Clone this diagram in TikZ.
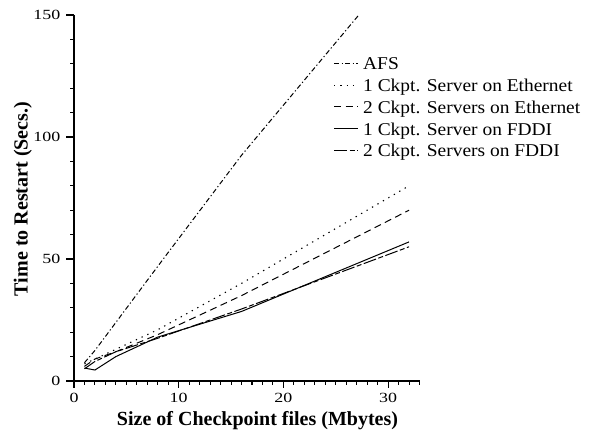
\documentclass[tikz,border=0pt]{standalone}
\usepackage{fontspec}
\setmainfont{Liberation Serif}
\newfontfamily\tickfont[FakeStretch=1.28]{Liberation Serif}
\newfontfamily\legfont[FakeStretch=1.08]{Liberation Serif}
\begin{document}
\begin{tikzpicture}[x=1bp,y=1bp,
  afs/.style={line width=1bp, dash pattern=on 5bp off 2.5bp on 1.2bp off 2.5bp},
  ethone/.style={line width=1.1bp, dash pattern=on 1.3bp off 5bp},
  ethtwo/.style={line width=1bp, dash pattern=on 7bp off 4.5bp},
  fddione/.style={line width=1bp},
  fdditwo/.style={line width=1bp, dash pattern=on 13bp off 2.5bp on 5bp off 2.5bp},
  ticklab/.style={font=\tickfont\fontsize{14bp}{16bp}\selectfont, inner sep=0pt},
  leglab/.style={font=\legfont\fontsize{18bp}{20bp}\selectfont, inner sep=0pt, anchor=base west},
  axlab/.style={font=\bfseries\fontsize{20bp}{22bp}\selectfont, inner sep=0pt, anchor=base},
  axisline/.style={line width=1.1bp}]
\path[use as bounding box] (0,0) rectangle (590,437);
\begin{scope}[shift={(74,56)}, x=10.47bp, y=2.44bp]
  % axes
  \draw[axisline] (0,150) -- (0,0) -- (33,0);
  \foreach \v in {0,10,...,150} \draw[axisline] (0,\v) -- ++(-4bp,0);
  \foreach \v in {0,50,100,150} {
    \draw[axisline] (0,\v) -- ++(-8bp,0);
    \node[ticklab, anchor=east] (yt\v) at ([xshift=-13.5bp]0,\v) {\v};
  }
  \foreach \v in {0,1,...,33} \draw[axisline] (\v,0) -- ++(0,-4bp);
  \foreach \v in {0,10,20,30} {
    \draw[axisline] (\v,0) -- ++(0,-7bp);
    \node[ticklab, anchor=north] (xt\v) at ([yshift=-12bp]\v,0) {\v};
  }
  % data
  \draw[afs] (1,7.5) -- (2,12.5) -- (4,24) -- (8,47) -- (16,92.5) -- (27.2,150);
  \draw[ethone] (1,7) -- (2,9) -- (4,13) -- (8,21) -- (16,40) -- (32,80);
  \draw[ethtwo] (1,6) -- (2,9) -- (4,12) -- (8,19) -- (16,35) -- (32,70);
  \draw[fddione] (1,5.3) -- (2,4.5) -- (4,10) -- (8,18) -- (16,28.5) -- (32,57);
  \draw[fdditwo] (1,5) -- (2,8) -- (4,12) -- (8,17.5) -- (16,29.5) -- (32,55);
\end{scope}
% legend
\draw[afs] (334,373.5) -- (358,373.5);
\node[leglab] (l1) at (363,367) {AFS};
\draw[ethone] (334,351.8) -- (358,351.8);
\node[leglab] (l2) at (363,345.3) {1 Ckpt. Server on Ethernet};
\draw[ethtwo] (334,330.1) -- (358,330.1);
\node[leglab] (l3) at (363,323.6) {2 Ckpt. Servers on Ethernet};
\draw[fddione] (334,308.4) -- (358,308.4);
\node[leglab] (l4) at (363,301.9) {1 Ckpt. Server on FDDI};
\draw[fdditwo] (334,286.7) -- (358,286.7);
\node[leglab] (l5) at (363,280.2) {2 Ckpt. Servers on FDDI};
% axis labels
\node[axlab] (xlab) at (257.5,11) {Size of Checkpoint files (Mbytes)};
\node[axlab, rotate=90] (ylab) at (27.5,238) {Time to Restart (Secs.)};
\end{tikzpicture}
\end{document}
